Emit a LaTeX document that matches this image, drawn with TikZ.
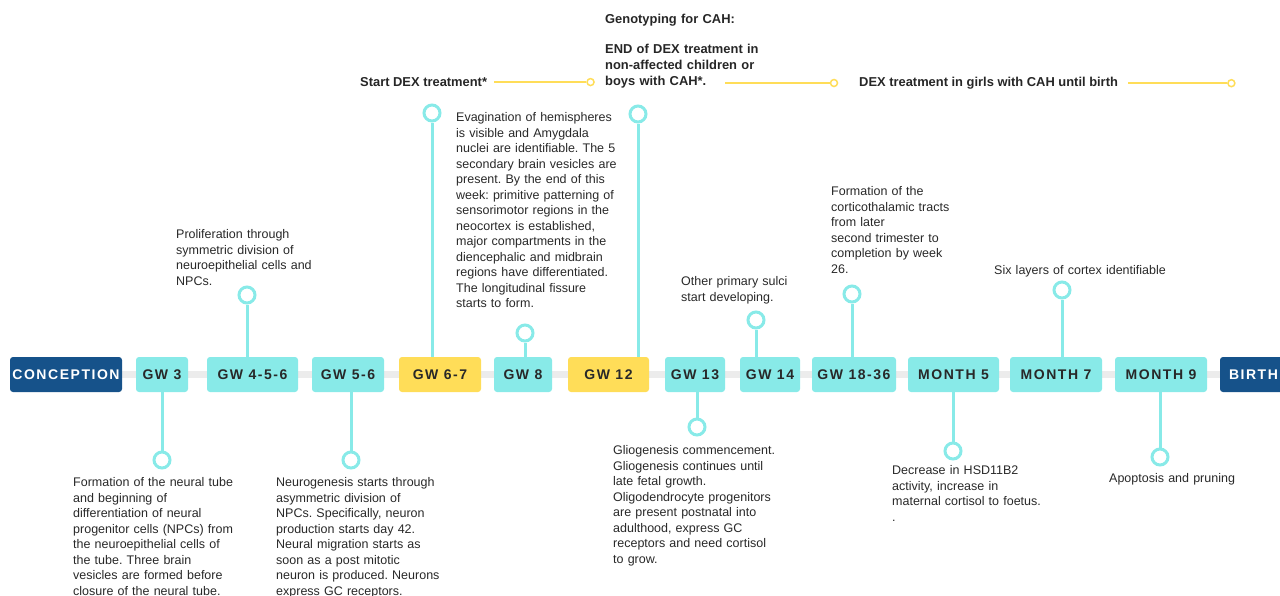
\documentclass[tikz,border=0pt]{standalone}
\usepackage{fontspec}
\setmainfont{Liberation Sans}
\newfontfamily\tagfont[LetterSpace=11]{Liberation Sans}
\usepackage{tikz}
\usetikzlibrary{positioning}
\definecolor{tealc}{RGB}{136,234,232}
\definecolor{sun}{RGB}{255,221,88}
\definecolor{deepblue}{RGB}{22,82,138}
\definecolor{inkc}{RGB}{40,40,40}
\definecolor{trackgray}{RGB}{236,236,236}
\frenchspacing

\begin{document}
\begin{tikzpicture}[
  x=1pt, y=-1pt,
  font=\fontsize{12.5}{15.5}\selectfont,
  tag/.style={rounded corners=3pt, minimum height=35pt, inner xsep=1pt, outer sep=0pt, font=\tagfont\bfseries\fontsize{14}{16}\selectfont, text=inkc},
  gwbox/.style={tag, fill=tealc},
  dexbox/.style={tag, fill=sun},
  endbox/.style={tag, fill=deepblue, text=white},
  stem/.style={draw=tealc, line width=3pt},
  pin/.style={circle, draw=tealc, line width=3pt, fill=white, minimum size=16pt, inner sep=0pt},
  note/.style={anchor=base west, inner sep=0pt, text width=210pt, align=left, text=inkc},
  dexnote/.style={note, font=\bfseries\fontsize{12.9}{16}\selectfont, text=black!85},
  dexline/.style={draw=sun, line width=1.5pt},
  dexpin/.style={circle, draw=sun, line width=1.5pt, fill=white, minimum size=7pt, inner sep=0pt}
]
\useasboundingbox (0,0) rectangle (1280,595);

\coordinate (tl) at (20,374.5);
\coordinate (tr) at (1280,374.5);
\draw[trackgray, line width=7pt] (tl) -- (tr);

\node[endbox, minimum width=112pt, anchor=west] (conc) at (10,374.5) {CONCEPTION};
\node[gwbox, minimum width=52pt, right=14pt of conc] (gw3) {GW 3};
\node[gwbox, minimum width=91pt, right=19pt of gw3] (gw456) {GW 4-5-6};
\node[gwbox, minimum width=72pt, right=14pt of gw456] (gw56) {GW 5-6};
\node[dexbox, minimum width=82pt, right=15pt of gw56] (gw67) {GW 6-7};
\node[gwbox, minimum width=58pt, right=13pt of gw67] (gw8) {GW 8};
\node[dexbox, minimum width=81pt, right=16pt of gw8] (gw12) {GW 12};
\node[gwbox, minimum width=60pt, right=16pt of gw12] (gw13) {GW 13};
\node[gwbox, minimum width=60pt, right=15pt of gw13] (gw14) {GW 14};
\node[gwbox, minimum width=84pt, right=12pt of gw14] (gw1836) {GW 18-36};
\node[gwbox, minimum width=91pt, right=12pt of gw1836] (m5) {MONTH 5};
\node[gwbox, minimum width=92pt, right=11pt of m5] (m7) {MONTH 7};
\node[gwbox, minimum width=92pt, right=13pt of m7] (m9) {MONTH 9};
\node[endbox, right=13pt of m9, text width=90pt, align=left, inner xsep=9pt] (birth) {BIRTH};

\node[pin] (p3) at (162,460) {};
\node[pin] (p456) at (247,295) {};
\node[pin] (p56) at (351,460) {};
\node[pin] (p67) at (432,113) {};
\node[pin] (p8) at (525,333) {};
\node[pin] (p12) at (638,114) {};
\node[pin] (p13) at (697,427) {};
\node[pin] (p14) at (756,320) {};
\node[pin] (p1836) at (852,294) {};
\node[pin] (pm5) at (953,451) {};
\node[pin] (pm7) at (1062,290) {};
\node[pin] (pm9) at (1160,457) {};
\foreach \p/\b/\s in {p3/gw3/south, p456/gw456/north, p56/gw56/south, p67/gw67/north,
  p8/gw8/north, p12/gw12/north, p13/gw13/south, p14/gw14/north, p1836/gw1836/north,
  pm5/m5/south, pm7/m7/north, pm9/m9/south}
  \draw[stem] (\p) -- (\p |- \b.\s);

\node[note] (n3) at (73,486.5) {Formation of the neural tube\\and beginning of\\differentiation of neural\\progenitor cells (NPCs) from\\the neuroepithelial cells of\\the tube. Three brain\\vesicles are formed before\\closure of the neural tube.};
\node[note] (n456) at (176,238.5) {Proliferation through\\symmetric division of\\neuroepithelial cells and\\NPCs.};
\node[note] (n56) at (276,486.5) {Neurogenesis starts through\\asymmetric division of\\NPCs. Specifically, neuron\\production starts day 42.\\Neural migration starts as\\soon as a post mitotic\\neuron is produced. Neurons\\express GC receptors.};
\node[note] (n8) at (456,121.5) {Evagination of hemispheres\\is visible and Amygdala\\nuclei are identifiable. The 5\\secondary brain vesicles are\\present. By the end of this\\week: primitive patterning of\\sensorimotor regions in the\\neocortex is established,\\major compartments in the\\diencephalic and midbrain\\regions have differentiated.\\The longitudinal fissure\\starts to form.};
\node[note] (n13) at (613,454.5) {Gliogenesis commencement.\\Gliogenesis continues until\\late fetal growth.\\Oligodendrocyte progenitors\\are present postnatal into\\adulthood, express GC\\receptors and need cortisol\\to grow.};
\node[note] (n14) at (681,285.5) {Other primary sulci\\start developing.};
\node[note] (n1836) at (831,195.5) {Formation of the\\corticothalamic tracts\\from later\\second trimester to\\completion by week\\26.};
\node[note] (nm5) at (892,474.5) {Decrease in HSD11B2\\activity, increase in\\maternal cortisol to foetus.\\.};
\node[note] (nm7) at (994,274.5) {Six layers of cortex identifiable};
\node[note] (nm9) at (1109,482.5) {Apoptosis and pruning};

\node[dexnote, text width=] (startdex) at (360,86.5) {Start DEX treatment*};
\node[dexnote] (geno) at (605,23.5) {Genotyping for CAH:};
\node[dexnote] (enddex) at (605,53.5) {END of DEX treatment in\\non-affected children or\\boys with CAH*.};
\node[dexnote, text width=] (girls) at (859,86.5) {DEX treatment in girls with CAH until birth};

\node[dexpin, right=99pt of startdex] (d1) {};
\node[dexpin] (d2) at (834,83) {};
\node[dexpin, right=109pt of girls] (d3) {};
\coordinate (g1) at (725,83);
\draw[dexline] ([xshift=7pt]startdex.east) -- (d1);
\draw[dexline] (g1) -- (d2);
\draw[dexline] ([xshift=10pt]girls.east) -- (d3);
\end{tikzpicture}
\end{document}
